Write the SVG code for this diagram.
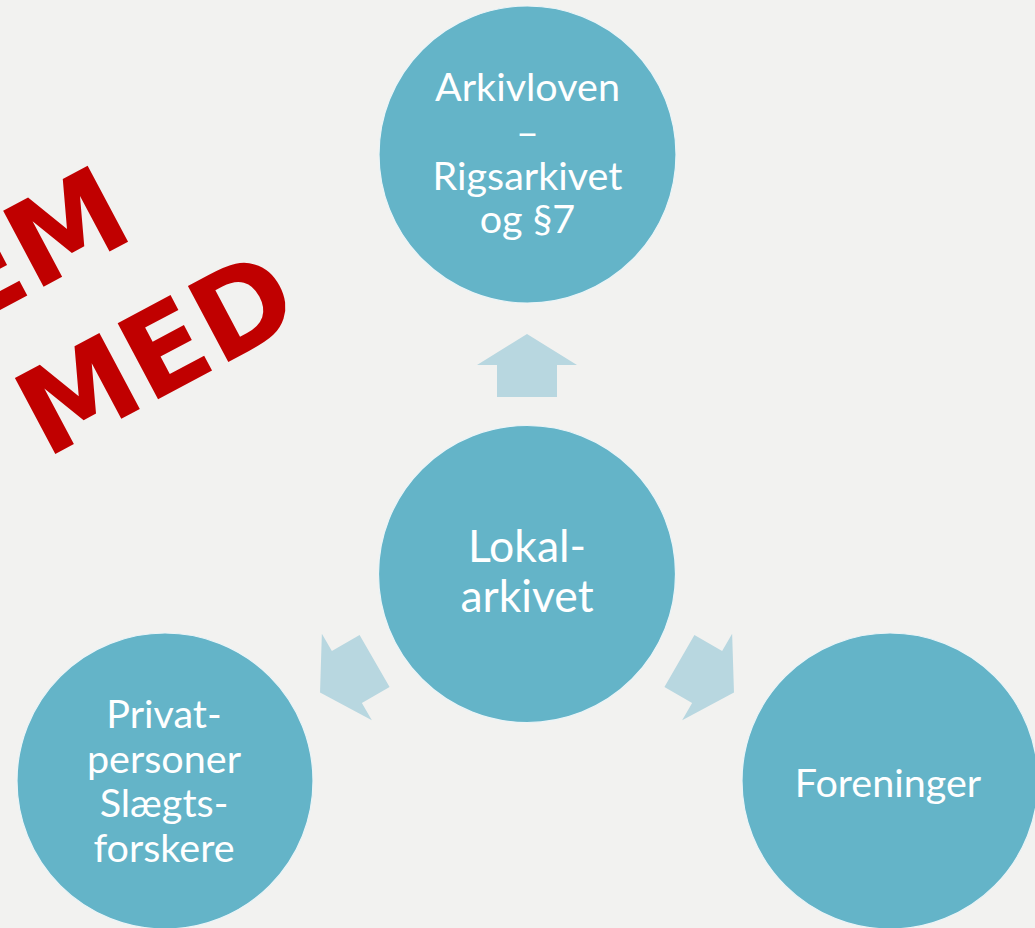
<svg xmlns="http://www.w3.org/2000/svg" width="1035" height="928" viewBox="0 0 1035 928">
<style>
.bg{fill:#F2F2F0}
.node{fill:#64B4C8;stroke:#EAF4F7;stroke-width:1.2}
.lbl{fill:#FFFFFF;font-family:Lato,"Open Sans","Liberation Sans",sans-serif;text-anchor:middle}
.arrow{fill:#B8D7E0}
.stamp{fill:#C00000;font-family:"DejaVu Sans","Liberation Sans",sans-serif;font-weight:bold;font-size:118px;letter-spacing:-1px}
</style>
<defs>
<polygon id="arr" points="527,334 577,365 557,365 557,397 497,397 497,365 477,365"/>
</defs>
<rect class="bg" x="0" y="0" width="1035" height="928"/>
<g id="stamp" transform="translate(55,454) rotate(-28)">
<text class="stamp" x="-22" y="-153">EM</text>
<text class="stamp" x="-10.6" y="0">MED</text>
</g>
<g id="connectors">
<use href="#arr" class="arrow"/>
<use href="#arr" class="arrow" transform="rotate(120 527 573)"/>
<use href="#arr" class="arrow" transform="rotate(-120 527 573)"/>
</g>
<g id="node-top">
<circle class="node" cx="527.5" cy="154.5" r="148.5"/>
<text class="lbl" font-size="39.5"><tspan x="527.5" y="101">Arkivloven</tspan><tspan x="527.5" y="145.5">–</tspan><tspan x="527.5" y="190">Rigsarkivet</tspan><tspan x="527.5" y="233">og §7</tspan></text>
</g>
<g id="node-center">
<circle class="node" cx="527" cy="574" r="148.5"/>
<text class="lbl" font-size="44.5"><tspan x="527" y="562">Lokal-</tspan><tspan x="527" y="612">arkivet</tspan></text>
</g>
<g id="node-left">
<circle class="node" cx="165" cy="781" r="148"/>
<text class="lbl" font-size="39.5"><tspan x="164" y="728">Privat-</tspan><tspan x="164" y="773">personer</tspan><tspan x="164" y="817">Slægts-</tspan><tspan x="164" y="862">forskere</tspan></text>
</g>
<g id="node-right">
<circle class="node" cx="890" cy="781" r="148"/>
<text class="lbl" font-size="39.5" x="888" y="797">Foreninger</text>
</g>
</svg>
